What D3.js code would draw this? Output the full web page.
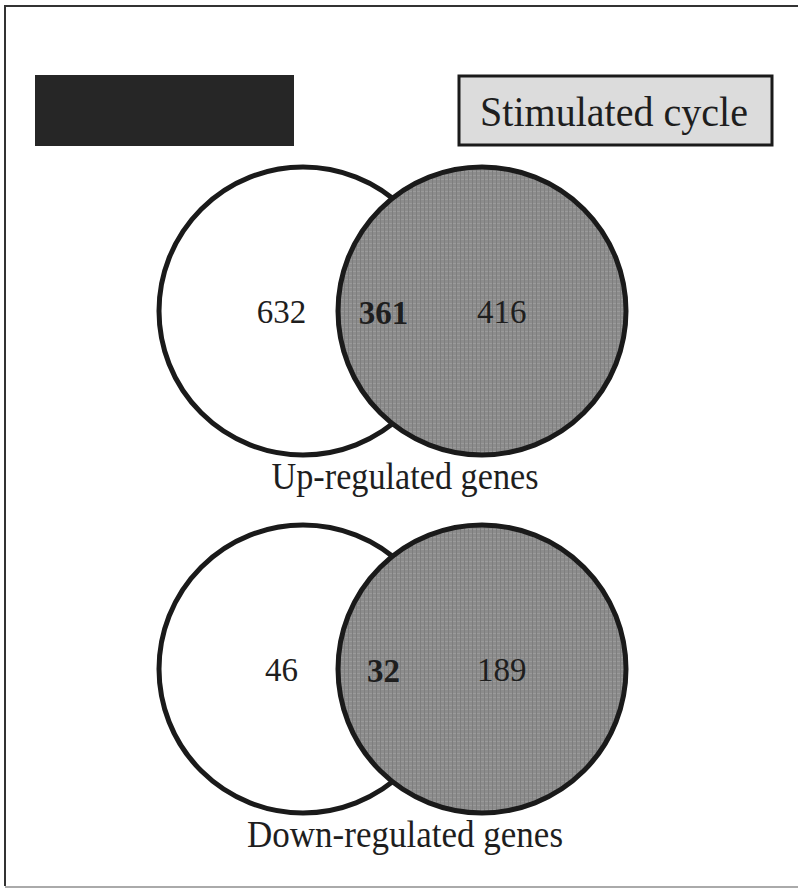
<html>
<head>
<meta charset="utf-8">
<title>Venn</title>
<style>
  body { margin: 0; background: #fff; overflow: hidden; }
  text { font-family: "Liberation Serif", "DejaVu Serif", serif; fill: #1e1e1e; }
</style>
</head>
<body>
<script src="https://cdn.jsdelivr.net/npm/d3@7/dist/d3.min.js"></script>
<script>
var width = 798, height = 890;

// data
var panels = ["Up-regulated genes", "Down-regulated genes"];
var leftOnly = [632, 46];
var overlap = [361, 32];
var rightOnly = [416, 189];
var legendLabel = "Stimulated cycle";

var svg = d3.select("body").append("svg")
    .attr("width", width)
    .attr("height", height);

// crosshatch texture for the stimulated circle
var defs = svg.append("defs");
var pat = defs.append("pattern")
    .attr("id", "hatch")
    .attr("patternUnits", "userSpaceOnUse")
    .attr("width", 4).attr("height", 4);
pat.append("rect").attr("width", 4).attr("height", 4).attr("fill", "#8c8c8c");
pat.append("rect").attr("width", 4).attr("height", 1).attr("fill", "#9a9a9a");
pat.append("rect").attr("width", 1).attr("height", 4).attr("fill", "#7e7e7e");

// outer frame: left and top dark, bottom lighter, right side off the page
svg.append("path")
    .attr("d", "M5,886V6H800")
    .attr("fill", "none")
    .attr("stroke", "#333")
    .attr("stroke-width", 2);
svg.append("line")
    .attr("x1", 5).attr("x2", 800)
    .attr("y1", 887).attr("y2", 887)
    .attr("stroke", "#aaa")
    .attr("stroke-width", 2);

// legend boxes
svg.append("rect")
    .attr("x", 35).attr("y", 75)
    .attr("width", 259).attr("height", 71)
    .attr("fill", "#262626");

svg.append("rect")
    .attr("x", 459).attr("y", 76)
    .attr("width", 313).attr("height", 69)
    .attr("fill", "#dcdcdc")
    .attr("stroke", "#1a1a1a")
    .attr("stroke-width", 3);

svg.append("text")
    .attr("x", 614).attr("y", 126)
    .attr("text-anchor", "middle")
    .attr("font-size", 42)
    .attr("textLength", 268)
    .attr("lengthAdjust", "spacingAndGlyphs")
    .text(legendLabel);

// scales
var y = d3.scalePoint().domain(panels).range([311, 669]);
var x = d3.scaleLinear().domain([0, 1]).range([303, 482]);
var r = 144;

var g = svg.selectAll("g.venn")
    .data(panels)
    .enter().append("g")
    .attr("class", "venn")
    .attr("transform", function(d) { return "translate(0," + y(d) + ")"; });

g.append("circle")
    .attr("cx", x(0)).attr("cy", 0).attr("r", r)
    .attr("fill", "#fff")
    .attr("stroke", "#1a1a1a")
    .attr("stroke-width", 5);

g.append("circle")
    .attr("cx", x(1)).attr("cy", 0).attr("r", r)
    .attr("fill", "url(#hatch)")
    .attr("stroke", "#1a1a1a")
    .attr("stroke-width", 5);

g.append("text")
    .attr("x", x(-0.12)).attr("y", 12)
    .attr("text-anchor", "middle")
    .attr("font-size", 33)
    .text(function(d, i) { return leftOnly[i]; });

g.append("text")
    .attr("x", x(0.45)).attr("y", 13)
    .attr("text-anchor", "middle")
    .attr("font-size", 33)
    .attr("font-weight", "bold")
    .text(function(d, i) { return overlap[i]; });

g.append("text")
    .attr("x", x(1.11)).attr("y", 12)
    .attr("text-anchor", "middle")
    .attr("font-size", 33)
    .text(function(d, i) { return rightOnly[i]; });

g.append("text")
    .attr("x", x(0.57)).attr("y", 178)
    .attr("text-anchor", "middle")
    .attr("font-size", 37)
    .attr("textLength", function(d, i) { return i === 0 ? 267 : 316; })
    .attr("lengthAdjust", "spacingAndGlyphs")
    .text(function(d) { return d; });
</script>
</body>
</html>
